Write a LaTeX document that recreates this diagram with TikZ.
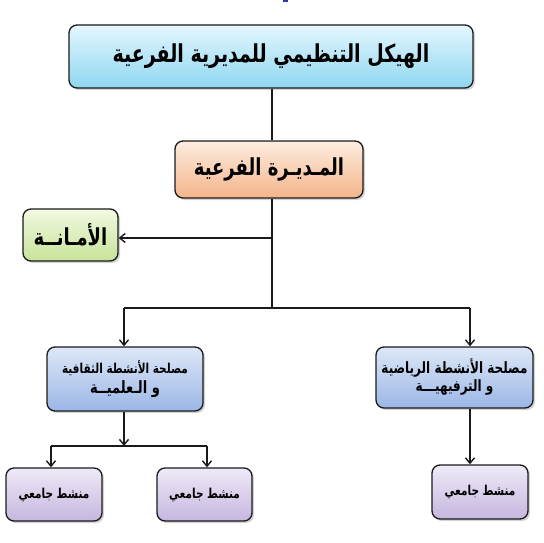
\documentclass[tikz,border=0pt]{standalone}
\usepackage{fontspec}
\usepackage{graphicx}
\usetikzlibrary{arrows.meta,shadows}
\TeXXeTstate=1
\newfontfamily\arabicfont[Script=Arabic]{DejaVu Sans}
\newcommand{\ar}[1]{\scalebox{1}[1.3]{\arabicfont\bfseries\beginR #1\endR}}
\definecolor{lineblk}{HTML}{1A1A1A}
\definecolor{cyT}{HTML}{E4F6FD}\definecolor{cyB}{HTML}{8ED7F1}
\definecolor{orT}{HTML}{FDEDE0}\definecolor{orB}{HTML}{F4B489}
\definecolor{grT}{HTML}{F2F9E2}\definecolor{grB}{HTML}{C6E399}
\definecolor{blT}{HTML}{DDE7F8}\definecolor{blB}{HTML}{9BB7E6}
\definecolor{puT}{HTML}{EFEAF7}\definecolor{puB}{HTML}{C5B6DF}
\tikzset{
  orgbox/.style={draw=lineblk, line width=1.3pt, rounded corners=8pt, inner sep=2pt, align=center,
    drop shadow={shadow xshift=2pt, shadow yshift=-2pt, opacity=0.35, fill=gray}},
  cyanbox/.style={orgbox, top color=cyT, bottom color=cyB},
  orangebox/.style={orgbox, top color=orT, bottom color=orB},
  greenbox/.style={orgbox, top color=grT, bottom color=grB},
  bluebox/.style={orgbox, top color=blT, bottom color=blB},
  purplebox/.style={orgbox, top color=puT, bottom color=puB},
  conn/.style={draw=lineblk, line width=1.3pt},
  arr/.style={conn, -{Straight Barb[length=5.5pt, width=9pt, line width=1.4pt]}}
}
\begin{document}
\begin{tikzpicture}[x=1pt,y=-1pt]
\useasboundingbox (0,0) rectangle (544,543);
\fill[blue!60!black!80] (283,0) rectangle (288,2.5);
\node[cyanbox, minimum width=404pt, minimum height=63pt, font=\fontsize{19}{22}\selectfont] (top) at (271,56.5) {\ar{الهيكل التنظيمي للمديرية الفرعية}};
\node[orangebox, minimum width=188pt, minimum height=57pt, font=\fontsize{18}{20}\selectfont] (mid) at (269,169.5) {\ar{المـديـرة الفرعية}};
\node[greenbox, minimum width=95pt, minimum height=52pt, font=\fontsize{18}{20}\selectfont] (amana) at (70.5,235) {\ar{الأمـانــة}};
\node[bluebox, minimum width=156pt, minimum height=64pt, font=\fontsize{10.5}{20}\selectfont] (lb) at (125,379) {\ar{مصلحة الأنشطة الثقافية}\\{\fontsize{13}{14}\selectfont\ar{و الـعلميــة}}};
\node[bluebox, minimum width=157pt, minimum height=61pt, font=\fontsize{12}{18}\selectfont] (rb) at (454.5,377.5) {\ar{مصلحة الأنشطة الرياضية}\\{\fontsize{12}{12}\selectfont\ar{و الترفيهيـــة}}};
\node[purplebox, minimum width=96pt, minimum height=53pt, font=\fontsize{10.5}{12}\selectfont] (bl) at (54,494.5) {\ar{منشط جامعي}};
\node[purplebox, minimum width=95pt, minimum height=53pt, font=\fontsize{10.5}{12}\selectfont] (bm) at (204.5,494.5) {\ar{منشط جامعي}};
\node[purplebox, minimum width=96pt, minimum height=54pt, font=\fontsize{10.5}{12}\selectfont] (br) at (480,492) {\ar{منشط جامعي}};
\coordinate (xm) at (272,0);
\coordinate (jA) at (272,238);
\coordinate (jB) at (272,308);
\coordinate (jL) at (124,308);
\coordinate (jR) at (470,308);
\coordinate (kC) at (124,446);
\coordinate (kL) at (51,446);
\coordinate (kR) at (207,446);
\draw[conn] (top.south -| xm) -- (mid.north -| xm);
\draw[conn] (mid.south -| xm) -- (jB);
\draw[arr] (jA) -- (amana.east |- jA);
\draw[conn] (jL) -- (jR);
\draw[arr] (jL) -- (lb.north -| jL);
\draw[arr] (jR) -- (rb.north -| jR);
\draw[arr] (lb.south -| kC) -- (kC);
\draw[conn] (kL) -- (kR);
\draw[arr] (kL) -- (bl.north -| kL);
\draw[arr] (kR) -- (bm.north -| kR);
\draw[arr] (rb.south -| jR) -- (br.north -| jR);
\end{tikzpicture}
\end{document}
